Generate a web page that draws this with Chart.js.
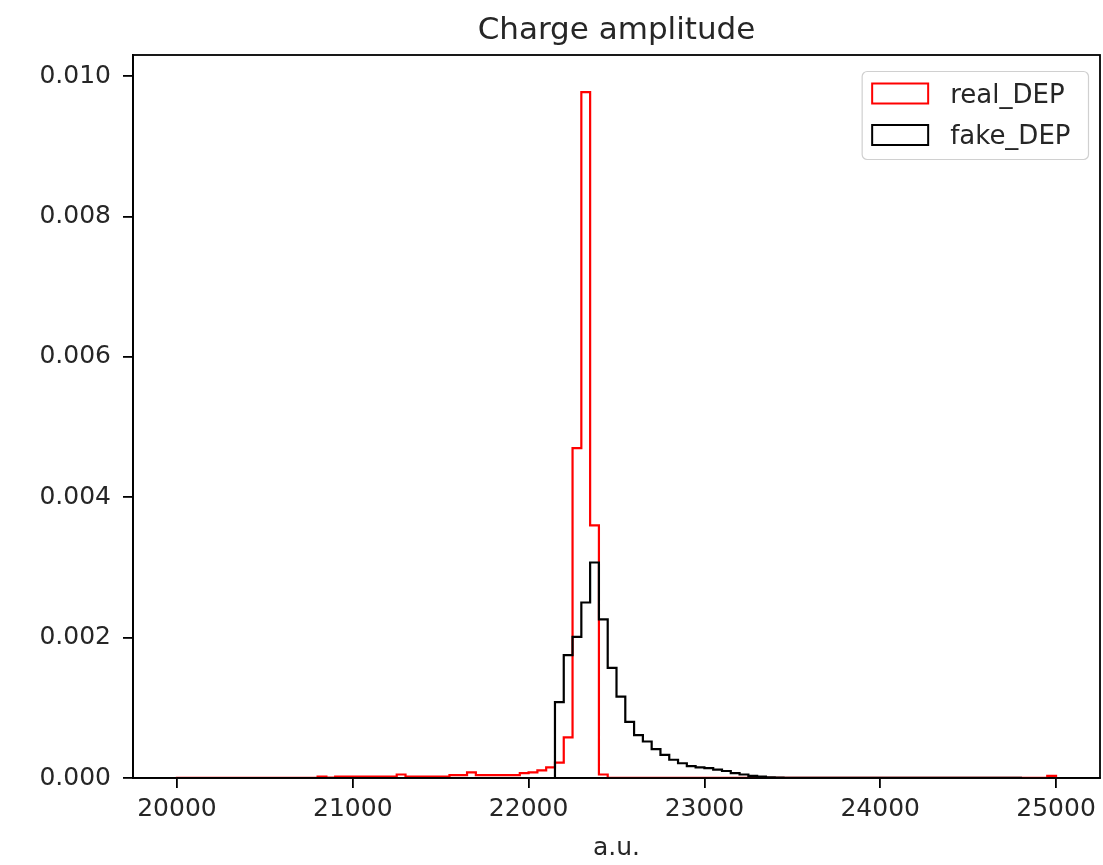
<!DOCTYPE html>
<html>
<head>
<meta charset="utf-8">
<title>Charge amplitude</title>
<script src="https://cdn.jsdelivr.net/npm/chart.js@4.4.1/dist/chart.umd.min.js"></script>
<style>
  html, body { margin: 0; padding: 0; background: #fff; }
  canvas { display: block; }
</style>
</head>
<body>
<canvas id="chart" width="1103" height="865"></canvas>
<script>
// histogram bins: 50 a.u. wide, starting at 20000
const BIN_START = 20000;
const BIN_WIDTH = 50;

const X_TICKS = [20000, 21000, 22000, 23000, 24000, 25000];
const Y_TICKS = [0, 0.002, 0.004, 0.006, 0.008, 0.010];

// density per bin
const realDEP = [
    0.000003, 0.000003, 0.000003, 0.000003, 0.000003, 0.000003, 0.000003, 0.000003,
    0.000003, 0.000003, 0.000003, 0.000003, 0.000003, 0.000003, 0.000003, 0.000003,
    0.00002, 0.000005, 0.00002, 0.00002, 0.00002, 0.00002, 0.00002, 0.00002,
    0.00002, 0.00005, 0.00002, 0.00002, 0.00002, 0.00002, 0.00002, 0.00004,
    0.00004, 0.00008, 0.00004, 0.00004, 0.00004, 0.00004, 0.00004, 0.00007,
    0.00008, 0.00011, 0.00015, 0.00022, 0.00058, 0.0047, 0.00977, 0.0036,
    0.00005, 0.000003, 0.000003, 0.000003, 0.000003, 0.000003, 0.000003, 0.000003,
    0.000003, 0.000003, 0.000003, 0.000003, 0.000003, 0.000003, 0.000003, 0.000003,
    0.000003, 0.000003, 0.000003, 0.000003, 0.000003, 0.000003, 0.000003, 0.000003,
    0.000003, 0.000003, 0.000003, 0.000003, 0.000003, 0.000003, 0.000003, 0.000003,
    0.000003, 0.000003, 0.000003, 0.000003, 0.000003, 0.000003, 0.000003, 0.000003,
    0.000003, 0.000003, 0.000003, 0.000003, 0.000003, 0.000003, 0.000003, 0.000003,
    0.000003, 0.000003, 0.000003, 0.00003
];

const fakeDEP = [
    0, 0, 0, 0, 0, 0, 0, 0, 0, 0, 0, 0, 0, 0, 0, 0,
    0, 0, 0, 0, 0, 0, 0, 0, 0, 0, 0, 0, 0, 0, 0, 0,
    0, 0, 0, 0, 0, 0, 0, 0, 0, 0, 0,
    0.00108, 0.00175, 0.00201, 0.0025, 0.00307, 0.00226, 0.00157, 0.00116,
    0.0008, 0.00061, 0.00052, 0.00041, 0.00033, 0.00026, 0.00021, 0.00017,
    0.00015, 0.00014, 0.00012, 0.0001, 0.00007, 0.00005, 0.00003, 0.00002,
    0.00001, 0.000006,
    0.000003, 0.000003, 0.000003, 0.000003, 0.000003, 0.000003, 0.000003, 0.000003,
    0.000003, 0.000003, 0.000003, 0.000003, 0.000003, 0.000003, 0.000003, 0.000003,
    0.000003, 0.000003, 0.000003, 0.000003, 0.000003, 0.000003, 0.000003, 0.000003,
    0.000003, 0.000003, 0.000003
];

const TITLE = 'Charge amplitude';
const X_LABEL = 'a.u.';
const FONT = '"DejaVu Sans", sans-serif';
const TEXT = '#262626';

// outline of a step histogram: up from 0 at the first edge, down to 0 at the last
function stepOutline(values) {
    const pts = [{ x: BIN_START, y: 0 }];
    values.forEach((v, i) => pts.push({ x: BIN_START + i * BIN_WIDTH, y: v }));
    pts.push({ x: BIN_START + values.length * BIN_WIDTH, y: 0 });
    return pts;
}

const decorPlugin = {
    id: 'decor',
    afterDraw(chart) {
        const { ctx, chartArea: a } = chart;
        ctx.save();

        // axes box on top of the data
        ctx.strokeStyle = '#000';
        ctx.lineWidth = 1.8;
        ctx.strokeRect(a.left, a.top, a.right - a.left, a.bottom - a.top);

        // title over the plot area
        ctx.fillStyle = TEXT;
        ctx.font = '31px ' + FONT;
        ctx.textAlign = 'center';
        ctx.textBaseline = 'alphabetic';
        ctx.fillText(TITLE, (a.left + a.right) / 2, 39);

        // legend, upper right
        const sets = chart.data.datasets;
        ctx.font = '26px ' + FONT;
        const textW = Math.max(...sets.map(d => ctx.measureText(d.label).width));
        const w = 10 + 56 + 22 + textW + 18;
        const h = 88;
        const fx = a.right - 11.5 - w;
        const fy = a.top + 16.5;
        ctx.beginPath();
        ctx.roundRect(fx, fy, w, h, 5);
        ctx.fillStyle = 'rgba(255,255,255,0.8)';
        ctx.fill();
        ctx.strokeStyle = '#d0d0d0';
        ctx.lineWidth = 1.2;
        ctx.stroke();

        ctx.textAlign = 'left';
        sets.forEach((d, i) => {
            const bx = fx + 10;
            const by = fy + 12 + i * 41.5;
            ctx.strokeStyle = d.borderColor;
            ctx.lineWidth = 2;
            ctx.strokeRect(bx, by, 56, 20);
            ctx.fillStyle = TEXT;
            ctx.fillText(d.label, bx + 78, by + 19);
        });

        ctx.restore();
    }
};

new Chart(document.getElementById('chart').getContext('2d'), {
    type: 'line',
    data: {
        datasets: [
            {
                label: 'real_DEP',
                data: stepOutline(realDEP),
                borderColor: '#ff0000',
                borderWidth: 2.2,
                stepped: true,
                pointRadius: 0,
                fill: false,
                order: 1
            },
            {
                label: 'fake_DEP',
                data: stepOutline(fakeDEP),
                borderColor: '#000000',
                borderWidth: 2.2,
                stepped: true,
                pointRadius: 0,
                fill: false,
                order: 0
            }
        ]
    },
    options: {
        responsive: false,
        animation: false,
        layout: { padding: { top: 55, right: 3, left: 0, bottom: 0 } },
        plugins: {
            legend: { display: false },
            title: { display: false },
            tooltip: { enabled: false }
        },
        scales: {
            x: {
                type: 'linear',
                min: 19750,
                max: 25250,
                afterBuildTicks: s => { s.ticks = X_TICKS.map(v => ({ value: v })); },
                afterFit: s => { s.height = 87; },
                ticks: {
                    color: TEXT,
                    padding: 6,
                    maxRotation: 0,
                    font: { family: FONT, size: 25 },
                    callback: v => String(v)
                },
                grid: { drawOnChartArea: false, tickLength: 10, color: '#000', lineWidth: 1.8 },
                border: { display: true, color: '#000', width: 1.8 },
                title: {
                    display: true,
                    text: X_LABEL,
                    color: TEXT,
                    font: { family: FONT, size: 25 },
                    padding: { top: 0, bottom: 2 }
                }
            },
            y: {
                min: 0,
                max: 0.0103,
                afterBuildTicks: s => { s.ticks = Y_TICKS.map(v => ({ value: v })); },
                afterFit: s => { s.width = 133; },
                ticks: {
                    color: TEXT,
                    padding: 12,
                    font: { family: FONT, size: 25 },
                    callback: v => v.toFixed(3)
                },
                grid: { drawOnChartArea: false, tickLength: 10, color: '#000', lineWidth: 1.8 },
                border: { display: true, color: '#000', width: 1.8 }
            }
        }
    },
    plugins: [decorPlugin]
});
</script>
</body>
</html>
